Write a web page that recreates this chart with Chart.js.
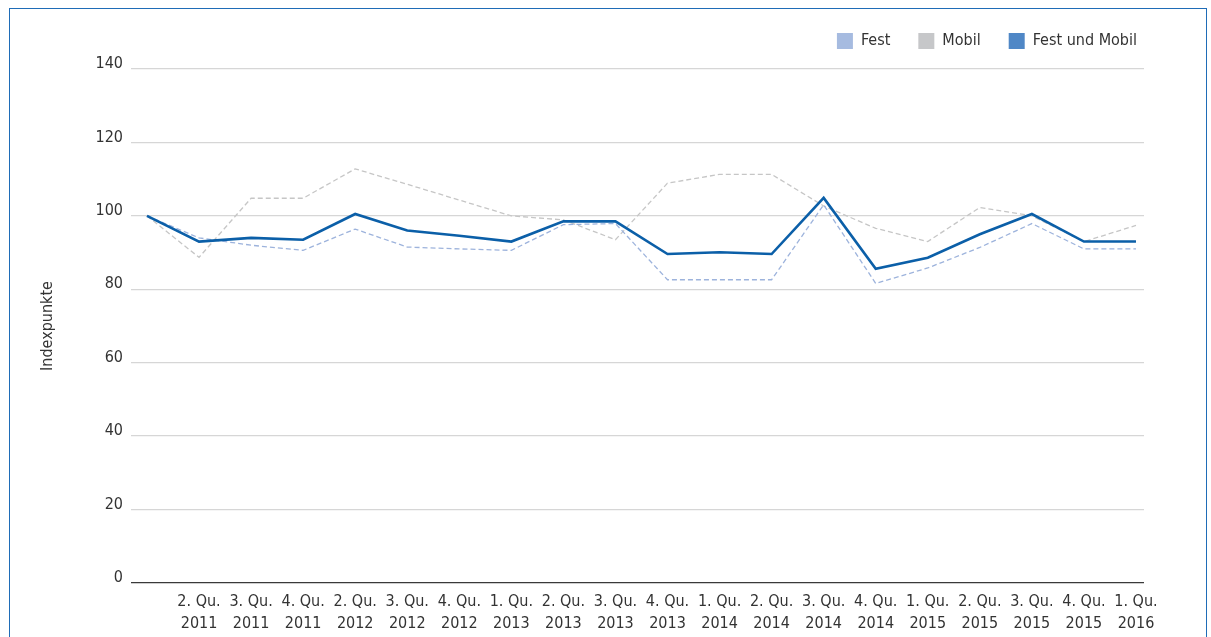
<!DOCTYPE html>
<html><head><meta charset="utf-8">
<script src="https://cdn.jsdelivr.net/npm/chart.js@4"></script>
<style>
html,body{margin:0;padding:0;background:#fff;width:1211px;height:637px;overflow:hidden;}
#frame{position:absolute;left:9px;top:8px;width:1198px;height:700px;border:1.5px solid #1f6cb7;box-sizing:border-box;}
#wrap{position:absolute;left:0;top:0;width:1211px;height:637px;}
</style></head><body>
<div id="frame"></div>
<div id="wrap"><canvas id="c" width="1211" height="637"></canvas></div>
<script>
const categories = ["", "2. Qu. 2011", "3. Qu. 2011", "4. Qu. 2011", "2. Qu. 2012", "3. Qu. 2012", "4. Qu. 2012", "1. Qu. 2013", "2. Qu. 2013", "3. Qu. 2013", "4. Qu. 2013", "1. Qu. 2014", "2. Qu. 2014", "3. Qu. 2014", "4. Qu. 2014", "1. Qu. 2015", "2. Qu. 2015", "3. Qu. 2015", "4. Qu. 2015", "1. Qu. 2016"];
const fest = [100, 94, 92, 90.6, 96.4, 91.5, 91, 90.6, 97.6, 97.9, 82.6, 82.6, 82.6, 103, 81.6, 85.8, 91.4, 97.9, 91, 91];
const mobil = [100, 88.7, 104.8, 104.8, 112.8, 108.6, 104.3, 100, 98.9, 93.5, 108.9, 111.3, 111.3, 102.7, 96.6, 93, 102.3, 100, 93, 97.4];
const festUndMobil = [100, 93, 94, 93.5, 100.5, 96, 94.6, 93, 98.5, 98.5, 89.6, 90.1, 89.6, 104.9, 85.6, 88.6, 95, 100.5, 93, 93];
const yTicks = [0, 20, 40, 60, 80, 100, 120, 140];

const FONT = '"Liberation Sans Narrow", "DejaVu Sans Condensed", "Roboto", sans-serif';
const toXY = arr => arr.map((v, i) => ({x: i, y: v}));

const legendTweak = {
  id: 'legendTweak',
  beforeLayout(chart) {
    const lg = chart.legend;
    if (lg && !lg._patched) {
      const orig = lg.fit;
      lg.fit = function () { orig.call(this); this.height += 10; };
      lg._patched = true;
    }
  },
  afterLayout(chart) {
    const lg = chart.legend;
    if (lg) { lg.left += 21; lg.right += 21; }
  }
};

new Chart(document.getElementById('c'), {
  type: 'line',
  data: {
    datasets: [
      {label: 'Fest', data: toXY(fest), borderColor: '#9db3dc', borderWidth: 1.3, borderDash: [5, 3], pointRadius: 0, fill: false, tension: 0, legendColor: '#a6bbe0', order: 2},
      {label: 'Mobil', data: toXY(mobil), borderColor: '#c6c6c6', borderWidth: 1.3, borderDash: [5, 3], pointRadius: 0, fill: false, tension: 0, legendColor: '#c6c7c9', order: 3},
      {label: 'Fest und Mobil', data: toXY(festUndMobil), borderColor: '#0b5fa8', borderWidth: 2.6, pointRadius: 0, fill: false, tension: 0, legendColor: '#4f87c6', order: 1}
    ]
  },
  plugins: [legendTweak],
  options: {
    responsive: false,
    animation: false,
    layout: {padding: {left: 38, right: 67, top: 5, bottom: 0}},
    plugins: {
      tooltip: {enabled: false},
      legend: {
        position: 'top', align: 'end',
        labels: {
          font: {family: FONT, size: 16}, color: '#333',
          boxWidth: 16, boxHeight: 16, padding: 28,
          generateLabels: chart => chart.data.datasets.map((d, i) => ({
            text: d.label, fillStyle: d.legendColor, strokeStyle: d.legendColor, lineWidth: 0,
            hidden: false, datasetIndex: i, fontColor: '#333'
          }))
        }
      }
    },
    scales: {
      x: {
        type: 'linear', min: -0.307, max: 19.154,
        afterFit: s => { s.height = 54; },
        afterBuildTicks: s => { s.ticks = categories.map((c, i) => ({value: i})); },
        grid: {display: false, drawTicks: false},
        border: {display: false},
        ticks: {
          autoSkip: false, maxRotation: 0, padding: 8,
          font: {family: FONT, size: 16, lineHeight: 1.35}, color: '#333',
          callback: v => Number.isInteger(v) && categories[v] ? categories[v].replace(/ (\d{4})$/, '\n$1').split('\n') : ''
        }
      },
      y: {
        min: 0, max: 140,
        afterFit: s => { s.width = 93; },
        afterBuildTicks: s => { s.ticks = yTicks.map(v => ({value: v})); },
        border: {display: false},
        grid: {
          drawTicks: false,
          color: c => c.tick && c.tick.value === 0 ? '#3a3a3a' : '#d6d6d6',
          lineWidth: 1.3
        },
        ticks: {padding: 8, labelOffset: -5, font: {family: FONT, size: 16}, color: '#333'},
        title: {display: true, text: 'Indexpunkte', font: {family: FONT, size: 16}, color: '#333', padding: {top: 0, bottom: 0}}
      }
    }
  }
});
</script>
</body></html>
